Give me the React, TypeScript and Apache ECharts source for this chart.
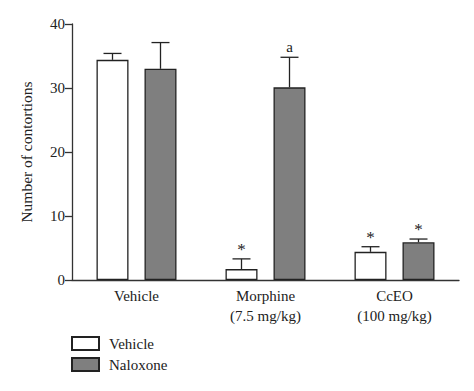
import React, { useEffect, useRef } from "react";
import * as echarts from "echarts";

const categories = ["Vehicle", "Morphine\n(7.5 mg/kg)", "CcEO\n(100 mg/kg)"];
const vehicleMeans = [34.4, 1.7, 4.4];
const vehicleErrTop = [35.4, 3.3, 5.2];
const vehicleMarks = ["", "*", "*"];
const naloxoneMeans = [33.0, 30.1, 5.9];
const naloxoneErrTop = [37.1, 34.8, 6.4];
const naloxoneMarks = ["", "a", "*"];
const yTicks = [0, 10, 20, 30, 40];

const FONT = "Liberation Serif";

function errorSeries(name: string, means: number[], tops: number[], marks: string[], offset: number) {
  return {
    type: "custom",
    name: name + "-err",
    z: 5,
    data: means.map((m, i) => [i, m, tops[i]]),
    renderItem: (params: any, api: any) => {
      const i = api.value(0);
      const base = api.coord([i, api.value(1)]);
      const top = api.coord([i, api.value(2)]);
      const x = base[0] + offset;
      const mark = marks[params.dataIndex];
      const children: any[] = [
        { type: "line", shape: { x1: x, y1: base[1], x2: x, y2: top[1] }, style: { stroke: "#222", lineWidth: 1.3 } },
        { type: "line", shape: { x1: x - 9, y1: top[1], x2: x + 9, y2: top[1] }, style: { stroke: "#222", lineWidth: 1.3 } },
      ];
      if (mark) {
        children.push({
          type: "text",
          style: {
            text: mark,
            x: x,
            y: top[1] - (mark === "*" ? 1 : 3),
            align: "center",
            verticalAlign: "bottom",
            font: `${mark === "*" ? 17 : 15}px "${FONT}"`,
            fill: "#222",
          },
        });
      }
      return { type: "group", children };
    },
    silent: true,
  };
}

export default function App() {
  const ref = useRef<HTMLDivElement>(null);
  useEffect(() => {
    if (!ref.current) return;
    const chart = echarts.init(ref.current, undefined, { renderer: "svg" });
    chart.setOption({
      animation: false,
      backgroundColor: "#fff",
      textStyle: { fontFamily: FONT, color: "#222" },
      grid: { left: 72, top: 24, right: 15, bottom: 111 },
      legend: {
        orient: "vertical",
        left: 71,
        top: 336,
        itemWidth: 27,
        itemHeight: 13,
        itemGap: 6,
        icon: "rect",
        data: ["Vehicle", "Naloxone"],
        textStyle: { fontFamily: FONT, fontSize: 15, color: "#222", padding: [0, 0, 0, 5] },
        padding: 0,
      },
      xAxis: {
        type: "category",
        data: categories,
        axisTick: { show: false },
        axisLine: { lineStyle: { color: "#333", width: 1.3 } },
        axisLabel: { fontFamily: FONT, fontSize: 15, color: "#222", lineHeight: 20, margin: 6 },
      },
      yAxis: {
        type: "value",
        min: 0,
        max: 40,
        interval: 10,
        name: "Number of contortions",
        nameLocation: "middle",
        nameGap: 38,
        nameTextStyle: { fontFamily: FONT, fontSize: 15.5, color: "#222" },
        axisLine: { show: true, lineStyle: { color: "#333", width: 1.3 } },
        axisTick: { show: true, length: 7, lineStyle: { color: "#333", width: 1.3 } },
        splitLine: { show: false },
        axisLabel: {
          fontFamily: FONT,
          fontSize: 15,
          color: "#222",
          margin: 7,
          formatter: (v: number) => (yTicks.includes(v) ? String(v) : ""),
        },
      },
      series: [
        {
          type: "bar",
          name: "Vehicle",
          data: vehicleMeans,
          barWidth: 32,
          barGap: "50%",
          itemStyle: { color: "#ffffff", borderColor: "#222", borderWidth: 1.3 },
        },
        {
          type: "bar",
          name: "Naloxone",
          data: naloxoneMeans,
          barWidth: 32,
          barGap: "50%",
          itemStyle: { color: "#7f7f7f", borderColor: "#222", borderWidth: 1.3 },
        },
        errorSeries("Vehicle", vehicleMeans, vehicleErrTop, vehicleMarks, -24),
        errorSeries("Naloxone", naloxoneMeans, naloxoneErrTop, naloxoneMarks, 24),
      ],
    });
    return () => chart.dispose();
  }, []);
  return <div ref={ref} style={{ width: 474, height: 391, marginLeft: -8, marginTop: -8 }} />;
}
